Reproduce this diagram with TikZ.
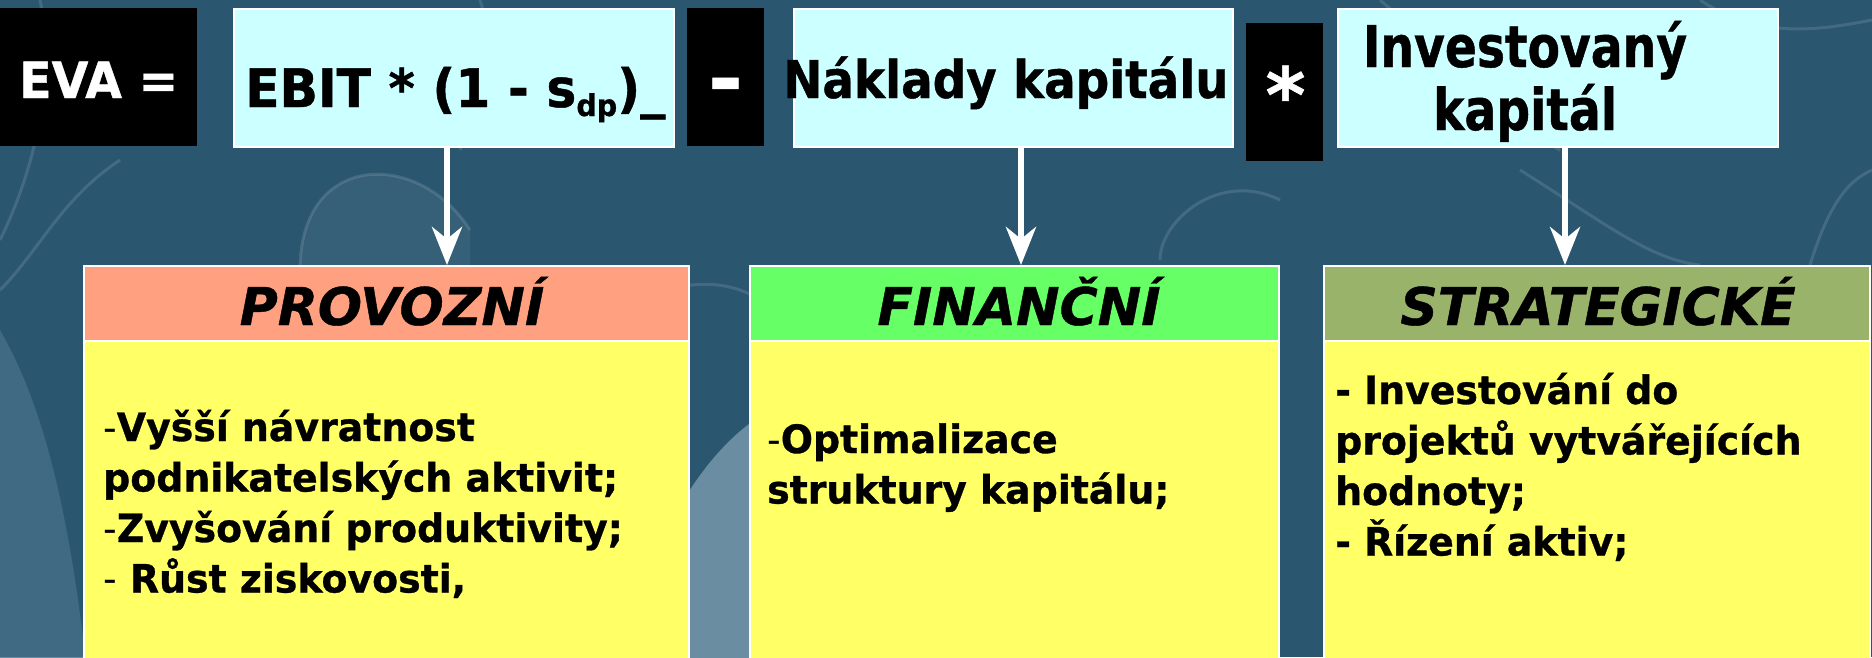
\documentclass[tikz,border=0pt]{standalone}
\usepackage{fontspec}
\setmainfont{DejaVu Sans}[BoldFeatures={FakeBold=0.8}, BoldItalicFeatures={FakeBold=0.8}]
\newfontfamily\stA{DejaVu Sans}[FakeStretch=0.95, BoldFeatures={FakeBold=0.8}]
\newfontfamily\stB{DejaVu Sans}[FakeStretch=0.90, BoldFeatures={FakeBold=0.8}]
\newfontfamily\stC{DejaVu Sans}[FakeStretch=0.82, BoldFeatures={FakeBold=0.8}]
\newfontfamily\stD{DejaVu Sans}[FakeStretch=0.97, BoldFeatures={FakeBold=0.8}]
\usetikzlibrary{arrows.meta}
\definecolor{bgblue}{HTML}{2A5670}
\definecolor{bgmid}{HTML}{46708A}
\definecolor{bglight}{HTML}{6A8DA2}
\definecolor{cyanbox}{HTML}{CCFFFF}
\definecolor{salmon}{HTML}{FFA080}
\definecolor{lgreen}{HTML}{66FF66}
\definecolor{olive}{HTML}{99B36B}
\definecolor{lyellow}{HTML}{FFFF66}
\tikzset{
  boxw/.style={draw=white, line width=2pt, anchor=north west, inner sep=0pt},
  blackbox/.style={fill=black, draw=none, anchor=north west, inner sep=0pt},
  txt/.style={inner sep=0pt, anchor=base west, text=black},
  hdr/.style={inner sep=0pt, anchor=base, font=\fontsize{52}{52}\selectfont\bfseries\itshape},
  bodytxt/.style={inner sep=0pt, anchor=base west, font=\stD\fontsize{39}{50.5}\selectfont\bfseries},
  arr/.style={draw=white, line width=6pt, -{Stealth[length=38pt, width=30pt, inset=12pt]}},
  deco/.style={draw=white, draw opacity=0.12, line width=3pt}
}
\begin{document}
\begin{tikzpicture}[x=1pt, y=-1pt]
\useasboundingbox (0,0) rectangle (1872,657);
% background
\fill[bgblue] (0,0) rectangle (1872,657);
\fill[bglight] (600,700) .. controls (650,540) and (700,450) .. (770,410) -- (770,700) -- cycle;
\fill[bgmid, opacity=0.8] (0,330) .. controls (40,400) and (70,500) .. (90,700) -- (0,700) -- cycle;
\fill[white, opacity=0.06] (300,270) .. controls (300,150) and (420,150) .. (470,230) -- (470,270) -- cycle;
\draw[deco] (300,270) .. controls (300,150) and (420,150) .. (470,230);
\draw[deco] (0,290) .. controls (40,250) and (60,200) .. (120,160);
\draw[deco] (40,0) .. controls (60,100) and (20,200) .. (0,240);
\draw[deco] (560,380) .. controls (600,300) and (700,260) .. (760,300);
\draw[deco] (1160,260) .. controls (1160,220) and (1220,170) .. (1280,200);
\draw[deco] (1520,170) .. controls (1600,220) and (1650,260) .. (1700,265);
\draw[deco] (1810,265) .. controls (1830,200) and (1850,180) .. (1872,170);
\draw[deco] (480,0) .. controls (500,60) and (470,120) .. (460,150);
\draw[deco] (1380,0) .. controls (1450,60) and (1500,120) .. (1560,150);
\draw[deco] (1700,0) .. controls (1760,40) and (1820,30) .. (1872,20);

% top row
\node[blackbox, minimum width=197pt, minimum height=138pt] (eva) at (0,8) {};
\node[txt, text=white, font=\stA\fontsize{50}{50}\selectfont\bfseries] (evat) at (19,98) {EVA =};

\node[boxw, fill=cyanbox, minimum width=440pt, minimum height=138pt] (ebit) at (233,8) {};
\node[txt, font=\stA\fontsize{53}{53}\selectfont\bfseries] (ebitt) at (245,107)
  {EBIT * (1 - s\raisebox{-9pt}{\fontsize{30}{30}\selectfont dp})\_};

\node[blackbox, minimum width=77pt, minimum height=138pt] (minus) at (687,8) {};
\node[inner sep=0pt, anchor=base, text=white, font=\fontsize{64}{64}\selectfont\bfseries] (minust) at (725.5,105.5) {\scalebox{1.3}[1.2]{-}};

\node[boxw, fill=cyanbox, minimum width=439pt, minimum height=138pt] (nakl) at (793,8) {};
\node[txt, font=\stB\fontsize{52}{52}\selectfont\bfseries] (naklt) at (783,98) {Náklady kapitálu};

\node[blackbox, minimum width=77pt, minimum height=138pt] (star) at (1246,23) {};
\node[inner sep=0pt, anchor=base, text=white, font=\fontsize{76}{76}\selectfont\bfseries] (start) at (1285.5,122) {*};

\node[boxw, fill=cyanbox, minimum width=440pt, minimum height=138pt] (inv) at (1337,8) {};
\node[inner sep=0pt, anchor=base, font=\stC\fontsize{57.6}{63}\selectfont\bfseries] (invt) at (1525,67)
  {\vtop{\baselineskip=63pt\halign{\hfil#\hfil\cr Investovaný\cr kapitál\cr}}};

% lower boxes
\node[boxw, fill=lyellow, minimum width=605pt, minimum height=340pt] (provb) at (83,340) {};
\node[boxw, fill=salmon, minimum width=605pt, minimum height=75pt] (prov) at (83,265) {};
\node[hdr] (provt) at (392,325) {PROVOZNÍ};
\node[bodytxt] (provtx) at (103,441) {\vtop{\baselineskip=50.5pt
  \hbox{{\mdseries -}Vyšší návratnost}
  \hbox{podnikatelských aktivit;}
  \hbox{{\mdseries -}Zvyšování produktivity;}
  \hbox{{\mdseries -} Růst ziskovosti,}}};

\node[boxw, fill=lyellow, minimum width=529pt, minimum height=340pt] (finb) at (749,340) {};
\node[boxw, fill=lgreen, minimum width=529pt, minimum height=75pt] (fin) at (749,265) {};
\node[hdr] (fint) at (1019,325) {FINANČNÍ};
\node[bodytxt] (fintx) at (767,453) {\vtop{\baselineskip=50.5pt
  \hbox{{\mdseries -}Optimalizace}
  \hbox{struktury kapitálu;}}};

\node[boxw, fill=lyellow, minimum width=546pt, minimum height=340pt] (strb) at (1323,340) {};
\node[boxw, fill=olive, minimum width=546pt, minimum height=75pt] (str) at (1323,265) {};
\node[hdr] (strt) at (1598,325) {STRATEGICKÉ};
\node[bodytxt] (strtx) at (1335,404) {\vtop{\baselineskip=50.5pt
  \hbox{- Investování do}
  \hbox{projektů vytvářejících}
  \hbox{hodnoty;}
  \hbox{- Řízení aktiv;}}};

% arrows
\coordinate (a1) at (447,0);
\coordinate (a2) at (1021,0);
\coordinate (a3) at (1565,0);
\draw[arr] (ebit.south -| a1) -- (prov.north -| a1);
\draw[arr] (nakl.south -| a2) -- (fin.north -| a2);
\draw[arr] (inv.south -| a3) -- (str.north -| a3);
\end{tikzpicture}
\end{document}
